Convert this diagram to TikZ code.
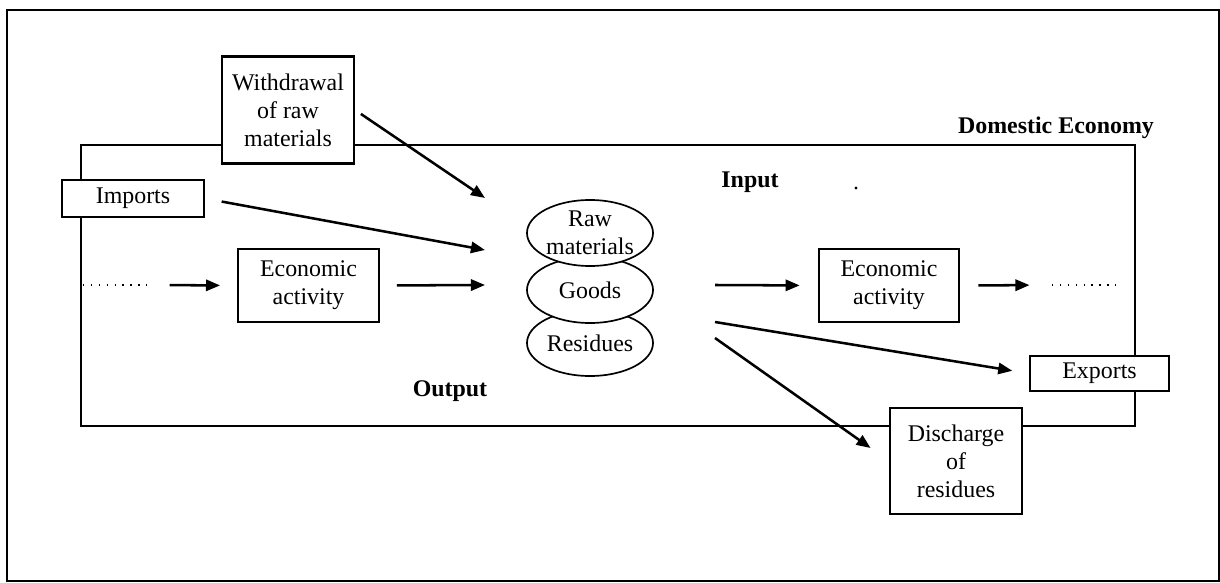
\documentclass[tikz,border=0pt]{standalone}
\usepackage{fontspec}
\setmainfont{Liberation Serif}
\usetikzlibrary{shapes.geometric,arrows.meta}
\begin{document}
\begin{tikzpicture}[x=0.025cm,y=-0.025cm,
    every node/.style={font=\fontsize{17}{20}\selectfont},
    box/.style={draw,fill=white,line width=1.5pt,align=center,inner sep=0pt},
    blob/.style={draw,ellipse,fill=white,line width=1.2pt,align=center,inner sep=-2pt,
        minimum width=3.15cm,minimum height=1.65cm},
    flow/.style={-{Triangle[length=10pt,width=8pt]},line width=1.8pt},
    dots/.style={line width=1pt,dash pattern=on 1pt off 4.6pt},
    lbl/.style={font=\fontsize{17}{20}\selectfont\bfseries}]
\useasboundingbox (0,0) rectangle (1220,583);
\draw[line width=1.5pt] (7,10) rectangle (1219,581);%outer frame
\draw[line width=1.5pt] (81,145) rectangle (1135,426);%domestic economy
%boxes
\node[box,minimum width=3.3cm,minimum height=2.675cm] (withdraw) at (288,110) {Withdrawal\\of raw\\materials};
\node[box,minimum width=3.55cm,minimum height=0.925cm] (imports) at (133,198.5) {Imports};
\node[box,minimum width=3.525cm,minimum height=1.825cm] (econL) at (308.5,285.5) {Economic\\activity};
\node[box,minimum width=3.5cm,minimum height=1.825cm] (econR) at (889,285.5) {Economic\\activity};
\node[box,minimum width=3.475cm,minimum height=0.875cm] (exports) at (1099.5,373.5) {Exports};
\node[box,minimum width=3.3cm,minimum height=2.65cm] (discharge) at (956,461) {Discharge\\of\\residues};
%stack of ellipses, lowest first
\node[blob] (residues) at (590,343) {Residues};
\node[blob] (goods) at (590,290) {Goods};
\node[blob] (raw) at (590,233) {Raw\\materials};
%labels
\node[lbl] (domestic) at (1056,128) {Domestic Economy};
\node[lbl] (input) at (750,182) {Input};
\node[lbl] (output) at (450,391) {Output};
\fill (856,188) circle (1.2pt);
%free ends
\coordinate (in1) at (485,198);
\coordinate (in2) at (485,250);
\coordinate (in3) at (485,285);
\coordinate (out1) at (715,285);
\coordinate (out2) at (715,322);
\coordinate (out3) at (715,338);
\coordinate (dl1) at (83,285);
\coordinate (dl2) at (150,285);
\coordinate (dr1) at (1052,285);
\coordinate (dr2) at (1116,285);
\draw[dots] (dl1) -- (dl2);
\draw[dots] (dr1) -- (dr2);
%flows
\draw[flow,shorten <=5pt] (withdraw.east) -- (in1);
\draw[flow,shorten <=12pt] (imports.east) -- (in2);
\draw[flow,shorten <=14pt,shorten >=12pt] (dl2) -- (econL.west);
\draw[flow,shorten <=12pt] (econL.east) -- (in3);
\draw[flow,shorten >=13pt] (out1) -- (econR.west);
\draw[flow,shorten <=13pt,shorten >=16pt] (econR.east) -- (dr1);
\draw[flow,shorten >=12pt] (out2) -- (exports.west);
\draw[flow,shorten >=16pt] (out3) -- (discharge.west);
\end{tikzpicture}
\end{document}
